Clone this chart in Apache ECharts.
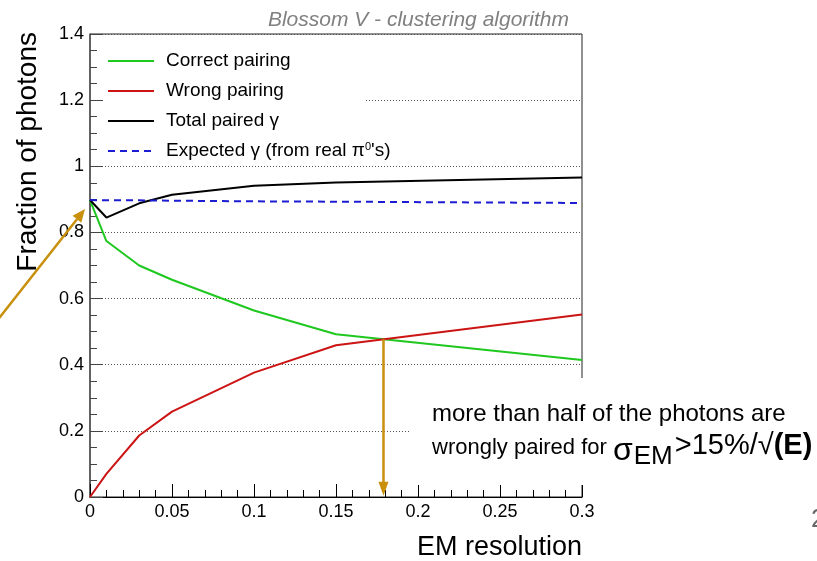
<!DOCTYPE html>
<html>
<head>
<meta charset="utf-8">
<script src="https://cdn.jsdelivr.net/npm/echarts@6/dist/echarts.min.js"></script>
<style>
  html, body { margin: 0; padding: 0; background: #ffffff; }
  #chart { width: 817px; height: 561px; }
</style>
</head>
<body>
<div id="chart"></div>
<script>
// EM energy resolution (sigma_EM coefficient) scanned for the Blossom V pairing
const resolution     = [0, 0.01, 0.03, 0.05, 0.1, 0.15, 0.3];
const correctPairing = [0.898, 0.774, 0.700, 0.657, 0.564, 0.492, 0.414];
const wrongPairing   = [0.000, 0.070, 0.186, 0.258, 0.376, 0.459, 0.552];
const totalPaired    = [0.898, 0.845, 0.888, 0.914, 0.941, 0.951, 0.966];
const expectedPhotons = [0.898, 0.897, 0.897, 0.896, 0.894, 0.893, 0.889];

const seriesNames  = ['Correct pairing', 'Wrong pairing', 'Total paired γ', "Expected γ (from real π0's)"];
const seriesColors = ['#1fc81f', '#cc1414', '#000000', '#1c1cd2'];

// axis ranges and tick steps
const xRange = [0, 0.3];
const xStep = 0.05;
const yRange = [0, 1.4];
const yStep = 0.2;

const FONT = '"Liberation Sans", Arial, Helvetica, sans-serif';
const GOLD = '#c8900c';

const toPoints = values => resolution.map((x, i) => [x, values[i]]);

// resolution where wrong pairings overtake correct ones
function crossing() {
  for (let i = 1; i < resolution.length; i++) {
    const d0 = wrongPairing[i - 1] - correctPairing[i - 1];
    const d1 = wrongPairing[i] - correctPairing[i];
    if (d0 < 0 && d1 >= 0) {
      const t = -d0 / (d1 - d0);
      const x = resolution[i - 1] + t * (resolution[i] - resolution[i - 1]);
      const y = wrongPairing[i - 1] + t * (wrongPairing[i] - wrongPairing[i - 1]);
      return [x, y];
    }
  }
  return null;
}
const cross = crossing();

const chart = echarts.init(document.getElementById('chart'), null, { renderer: 'canvas' });

const lineSeries = (idx, values, extra) => Object.assign({
  name: seriesNames[idx],
  type: 'line',
  data: toPoints(values),
  symbol: 'none',
  silent: true,
  lineStyle: { color: seriesColors[idx], width: 2 },
  itemStyle: { color: seriesColors[idx] }
}, extra || {});

const option = {
  animation: false,
  backgroundColor: '#ffffff',
  title: {
    text: 'Blossom V - clustering algorithm',
    right: 243,
    top: 5,
    textStyle: { fontFamily: FONT, fontStyle: 'italic', fontWeight: 'normal', fontSize: 21, color: '#808080' }
  },
  legend: {
    orient: 'vertical',
    left: 107,
    top: 51,
    padding: 0,
    itemWidth: 46,
    itemHeight: 14,
    itemGap: 10,
    selectedMode: false,
    data: seriesNames,
    itemStyle: { opacity: 0 },
    formatter: name => name.replace('π0', 'π{sup|0}'),
    textStyle: {
      fontFamily: FONT,
      fontSize: 19,
      color: '#000',
      lineHeight: 20,
      padding: [0, 0, 0, 7],
      rich: {
        sup: { fontFamily: FONT, fontSize: 11, color: '#000', verticalAlign: 'top', lineHeight: 12 }
      }
    },
    z: 6
  },
  grid: {
    left: 90, right: 235, top: 34, bottom: 62,
    show: true, borderColor: '#222', borderWidth: 1, backgroundColor: 'transparent'
  },
  xAxis: {
    type: 'value',
    min: xRange[0], max: xRange[1], interval: xStep,
    axisLine: { show: true, onZero: false, lineStyle: { color: '#000', width: 1 } },
    axisTick: { show: true, inside: true, length: 13, lineStyle: { color: '#000' } },
    minorTick: { show: true, splitNumber: 5, length: 7, lineStyle: { color: '#000' } },
    axisLabel: { margin: 6, fontFamily: FONT, fontSize: 18, color: '#000' },
    splitLine: { show: false },
    name: 'EM resolution',
    nameLocation: 'end',
    nameGap: 0,
    nameTextStyle: { fontFamily: FONT, fontSize: 27, color: '#000', align: 'right', verticalAlign: 'top', padding: [37, 0, 0, 0] }
  },
  yAxis: {
    type: 'value',
    min: yRange[0], max: yRange[1], interval: yStep,
    axisLine: { show: true, onZero: false, lineStyle: { color: '#555', width: 1.5 } },
    axisTick: { show: true, inside: true, length: 13, lineStyle: { color: '#444' } },
    minorTick: { show: true, splitNumber: 4, length: 7, lineStyle: { color: '#444' } },
    axisLabel: { margin: 6, fontFamily: FONT, fontSize: 18, color: '#000' },
    splitLine: { show: true, lineStyle: { type: [1, 2], color: '#555', width: 1 } }
  },
  series: [
    lineSeries(0, correctPairing),
    lineSeries(1, wrongPairing, {
      markLine: {
        silent: true,
        symbol: ['none', 'triangle'],
        symbolSize: [10, 14],
        label: { show: false },
        lineStyle: { color: GOLD, width: 2.5, type: 'solid' },
        data: cross ? [[{ coord: [cross[0], cross[1]] }, { coord: [cross[0], 0.025] }]] : []
      }
    }),
    lineSeries(2, totalPaired),
    lineSeries(3, expectedPhotons, { lineStyle: { color: seriesColors[3], width: 2, type: [7, 5] } })
  ]
};

chart.setOption(option);

// annotation layer: boxes, labels and the pointer to the starting value
const p0 = chart.convertToPixel({ gridIndex: 0 }, [resolution[0], totalPaired[0]]);
const tip = [p0[0] - 5, p0[1] + 9];
const tail = [tip[0] - 100, tip[1] + 127];
const ang = Math.atan2(tip[1] - tail[1], tip[0] - tail[0]);
const headLen = 13, headHalf = 5.5;
const base = [tip[0] - headLen * Math.cos(ang), tip[1] - headLen * Math.sin(ang)];
const nx = -Math.sin(ang), ny = Math.cos(ang);

chart.setOption({
  graphic: [
    // white panels behind the legend and the note
    { type: 'rect', z: 3, silent: true, shape: { x: 104, y: 35, width: 262, height: 127 }, style: { fill: '#ffffff' } },
    { type: 'rect', z: 3, silent: true, shape: { x: 410, y: 378, width: 407, height: 107 }, style: { fill: '#ffffff' } },
    // vertical axis title
    {
      type: 'text', z: 10, silent: true, x: 28, y: 32, rotation: Math.PI / 2,
      style: { text: 'Fraction of photons', font: '28px ' + FONT, fill: '#000', align: 'right', verticalAlign: 'middle' }
    },
    // note about the wrong pairing fraction
    {
      type: 'text', z: 10, silent: true, x: 432, y: 414,
      style: { text: 'more than half of the photons are', font: '24px ' + FONT, fill: '#000', align: 'left', verticalAlign: 'middle' }
    },
    {
      type: 'text', z: 10, silent: true, x: 432, y: 470,
      style: {
        text: '{t|wrongly paired for }{s|σ}{sub|EM}{b|>15%/√}{e|(E)}',
        align: 'left', verticalAlign: 'bottom', fill: '#000',
        rich: {
          t:   { fontFamily: FONT, fontSize: 22, lineHeight: 22, padding: [0, 0, 11, 0], verticalAlign: 'bottom', fill: '#000' },
          s:   { fontFamily: FONT, fontSize: 32, lineHeight: 32, padding: [0, 0, 3, 0], verticalAlign: 'bottom', fill: '#000' },
          sub: { fontFamily: FONT, fontSize: 26, lineHeight: 26, padding: [0, 2, 0, 1], verticalAlign: 'bottom', fill: '#000' },
          b:   { fontFamily: FONT, fontSize: 29, lineHeight: 29, padding: [0, 0, 10, 0], verticalAlign: 'bottom', fill: '#000' },
          e:   { fontFamily: FONT, fontSize: 29, lineHeight: 29, fontWeight: 'bold', padding: [0, 0, 10, 0], verticalAlign: 'bottom', fill: '#000' }
        }
      }
    },
    // slide number
    { type: 'text', z: 10, silent: true, x: 811, y: 520, style: { text: '2', font: '26px ' + FONT, fill: '#666', verticalAlign: 'middle' } },
    // pointer to the common starting value
    { type: 'line', z: 10, silent: true, shape: { x1: tail[0], y1: tail[1], x2: base[0], y2: base[1] }, style: { stroke: GOLD, lineWidth: 2.5 } },
    {
      type: 'polygon', z: 10, silent: true,
      shape: { points: [tip, [base[0] + nx * headHalf, base[1] + ny * headHalf], [base[0] - nx * headHalf, base[1] - ny * headHalf]] },
      style: { fill: GOLD }
    }
  ]
});
</script>
</body>
</html>
